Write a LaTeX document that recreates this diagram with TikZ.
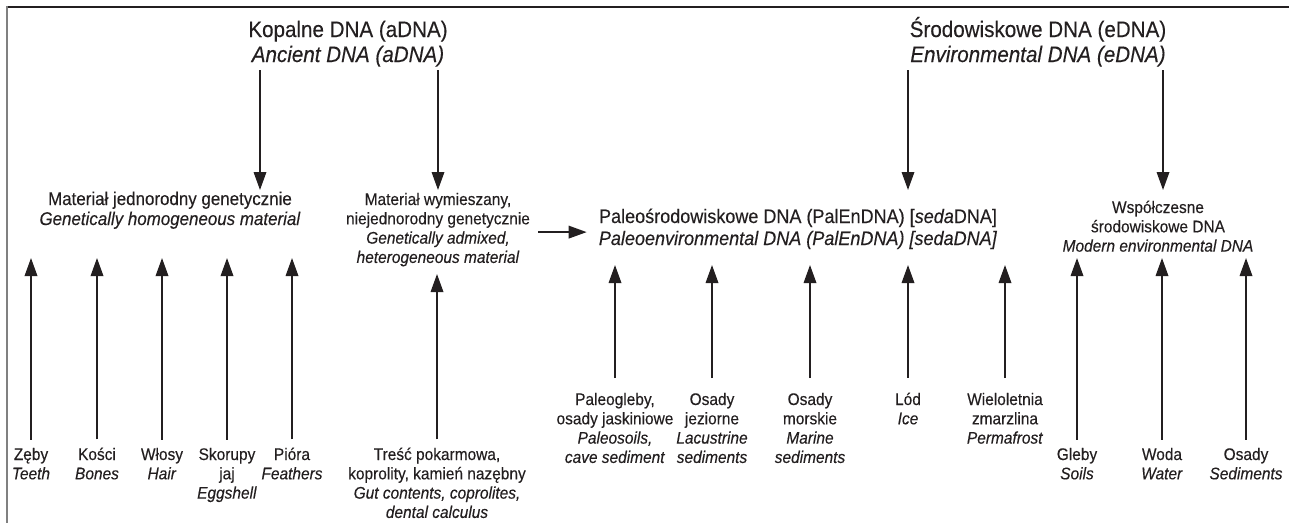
\documentclass[tikz,border=0pt]{standalone}
\usepackage{fontspec}
\setmainfont{Liberation Sans}[FakeStretch=0.92,FakeBold=0.3]
\usetikzlibrary{arrows.meta}
\definecolor{ink}{HTML}{231F20}
\begin{document}
\begin{tikzpicture}[x=1pt,y=-1pt,
  hdr/.style={font=\fontsize{22.4}{25}\selectfont, align=center, inner sep=0pt, text=ink, anchor=base},
  mid/.style={font=\fontsize{19.6}{22}\selectfont, align=center, inner sep=0pt, text=ink, anchor=base},
  sml/.style={font=\fontsize{16.8}{19.3}\selectfont, align=center, inner sep=0pt, text=ink, anchor=base},
  lrg/.style={font=\fontsize{18.4}{20}\selectfont, align=center, inner sep=0pt, text=ink, anchor=base},
  arr/.style={draw=ink, line width=1.8pt, -{Triangle[length=18pt,width=12.5pt]}}]
\useasboundingbox (0,0) rectangle (1289,523);
% frame
\draw[ink, line width=2pt] (6,6.5) -- (1289,6.5);
\draw[black!50, line width=2pt] (7,6) -- (7,523);
% headers (anchor = baseline of last line)
\node[hdr] (adna) at (348,62) {Kopalne DNA (aDNA)\\\textit{Ancient DNA (aDNA)}};
\node[hdr] (edna) at (1038,62) {Środowiskowe DNA (eDNA)\\\textit{Environmental DNA (eDNA)}};
% level 2
\node[lrg] (homo) at (170,225) {Materiał jednorodny genetycznie\\\textit{Genetically homogeneous material}};
\node[sml] (admix) at (438,262.9) {Materiał wymieszany,\\niejednorodny genetycznie\\\textit{Genetically admixed,}\\\textit{heterogeneous material}};
\node[mid] (palen) at (798,245) {Paleośrodowiskowe DNA (PalEnDNA) [\textit{seda}DNA]\\\textit{Paleoenvironmental DNA (PalEnDNA) [sedaDNA]}};
\node[sml] (modern) at (1158,251.6) {Współczesne\\środowiskowe DNA\\\textit{Modern environmental DNA}};
% bottom items
\node[sml] (teeth) at (31,479.3) {Zęby\\\textit{Teeth}};
\node[sml] (bones) at (97,479.3) {Kości\\\textit{Bones}};
\node[sml] (hair) at (162,479.3) {Włosy\\\textit{Hair}};
\node[sml] (egg) at (227,498.6) {Skorupy\\jaj\\\textit{Eggshell}};
\node[sml] (feath) at (292,479.3) {Pióra\\\textit{Feathers}};
\node[sml] (gut) at (437,517.9) {Treść pokarmowa,\\koprolity, kamień nazębny\\\textit{Gut contents, coprolites,}\\\textit{dental calculus}};
\node[sml] (paleo) at (615,462.9) {Paleogleby,\\osady jaskiniowe\\\textit{Paleosoils,}\\\textit{cave sediment}};
\node[sml] (lac) at (712,462.9) {Osady\\jeziorne\\\textit{Lacustrine}\\\textit{sediments}};
\node[sml] (mar) at (810,462.9) {Osady\\morskie\\\textit{Marine}\\\textit{sediments}};
\node[sml] (ice) at (908,424.3) {Lód\\\textit{Ice}};
\node[sml] (perm) at (1005,443.6) {Wieloletnia\\zmarzlina\\\textit{Permafrost}};
\node[sml] (soil) at (1077,479.3) {Gleby\\\textit{Soils}};
\node[sml] (water) at (1162,479.3) {Woda\\\textit{Water}};
\node[sml] (sed) at (1246,479.3) {Osady\\\textit{Sediments}};
% arrow x positions and tip levels
\coordinate (xa) at (260,0);
\coordinate (xb) at (438,0);
\coordinate (xc) at (908,0);
\coordinate (xd) at (1163,0);
\coordinate (tipA) at (0,258);
\coordinate (tipB) at (0,274);
\coordinate (tipC) at (0,265);
\coordinate (tipD) at (0,258);
\coordinate (topS) at (0,70);
\coordinate (tipS) at (0,190);
% header arrows
\draw[arr] (xa |- topS) -- (xa |- tipS);
\draw[arr] (xb |- topS) -- (xb |- tipS);
\draw[arr] (xc |- topS) -- (xc |- tipS);
\draw[arr] (xd |- topS) -- (xd |- tipS);
% horizontal arrow
\draw[arr, shorten <=8pt, shorten >=12pt] ([yshift=-2.5pt]admix.east) -- ([yshift=-2.5pt]admix.east -| palen.west);
% upward arrows
\foreach \n in {teeth,bones,hair,egg,feath}
  \draw[arr] ([yshift=8pt]\n.north) -- (\n.north |- tipA);
\draw[arr] ([yshift=8pt]gut.north) -- (gut.north |- tipB);
\foreach \n in {paleo,lac,mar,ice,perm}
  \draw[arr] ([yshift=14.5pt]\n.north) -- (\n.north |- tipC);
\foreach \n in {soil,water,sed}
  \draw[arr] ([yshift=8pt]\n.north) -- (\n.north |- tipD);
\end{tikzpicture}
\end{document}
